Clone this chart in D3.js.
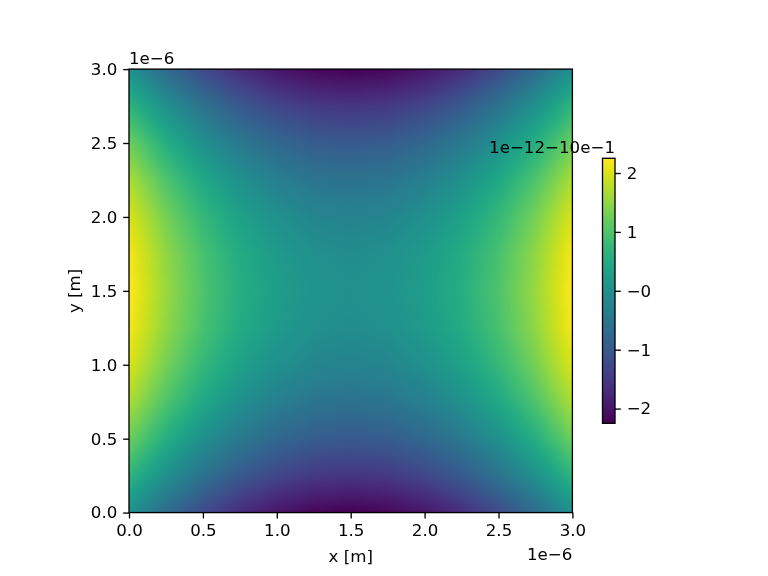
<!DOCTYPE html>
<html>
<head>
<meta charset="utf-8">
<script src="https://cdn.jsdelivr.net/npm/d3@7"></script>
<style>
  html, body { margin: 0; padding: 0; background: #ffffff; }
  #wrap { position: relative; width: 768px; height: 576px; }
  #wrap canvas, #wrap svg { position: absolute; left: 0; top: 0; }
  text { font-family: "DejaVu Sans", sans-serif; }
</style>
</head>
<body>
<div id="wrap"></div>
<script>
// ---- data ----
// grid node coordinates, in units of 1e-6 m
const xGrid = [0, 0.25, 0.5, 0.75, 1.0, 1.25, 1.5, 1.75, 2.0, 2.25, 2.5, 2.75, 3.0];
const yGrid = [0, 0.25, 0.5, 0.75, 1.0, 1.25, 1.5, 1.75, 2.0, 2.25, 2.5, 2.75, 3.0];
// field values at the nodes (units of 1e-12), row i is at yGrid[i]
const fieldRows = [
  [0, -0.69, -1.25, -1.69, -2.0, -2.19, -2.25, -2.19, -2.0, -1.69, -1.25, -0.69, 0],
  [0.69, 0, -0.56, -1.0, -1.31, -1.5, -1.56, -1.5, -1.31, -1.0, -0.56, 0, 0.69],
  [1.25, 0.56, 0, -0.44, -0.75, -0.94, -1.0, -0.94, -0.75, -0.44, 0, 0.56, 1.25],
  [1.69, 1.0, 0.44, 0, -0.31, -0.5, -0.56, -0.5, -0.31, 0, 0.44, 1.0, 1.69],
  [2.0, 1.31, 0.75, 0.31, 0, -0.19, -0.25, -0.19, 0, 0.31, 0.75, 1.31, 2.0],
  [2.19, 1.5, 0.94, 0.5, 0.19, 0, -0.06, 0, 0.19, 0.5, 0.94, 1.5, 2.19],
  [2.25, 1.56, 1.0, 0.56, 0.25, 0.06, 0, 0.06, 0.25, 0.56, 1.0, 1.56, 2.25],
  [2.19, 1.5, 0.94, 0.5, 0.19, 0, -0.06, 0, 0.19, 0.5, 0.94, 1.5, 2.19],
  [2.0, 1.31, 0.75, 0.31, 0, -0.19, -0.25, -0.19, 0, 0.31, 0.75, 1.31, 2.0],
  [1.69, 1.0, 0.44, 0, -0.31, -0.5, -0.56, -0.5, -0.31, 0, 0.44, 1.0, 1.69],
  [1.25, 0.56, 0, -0.44, -0.75, -0.94, -1.0, -0.94, -0.75, -0.44, 0, 0.56, 1.25],
  [0.69, 0, -0.56, -1.0, -1.31, -1.5, -1.56, -1.5, -1.31, -1.0, -0.56, 0, 0.69],
  [0, -0.69, -1.25, -1.69, -2.0, -2.19, -2.25, -2.19, -2.0, -1.69, -1.25, -0.69, 0]
];
const axisTicks = [0, 0.5, 1.0, 1.5, 2.0, 2.5, 3.0];
const colorDomain = [-2.25, 2.25];
const cbTicks = [2, 1, 0, -1, -2];
const cbTickLabels = ["2", "1", "\u22120", "\u22121", "\u22122"];
const xLabel = "x [m]";
const yLabel = "y [m]";
const xOffsetText = "1e\u22126";
const yOffsetText = "1e\u22126";
const cbOffsetText = "1e\u221212\u221210e\u22121";

// ---- layout ----
const W = 768, H = 576;
const FS = 16.67;
const tickLen = 5.83, tickPad = 5.83, lw = 1.33;
const plot = { left: 129, right: 572.4, top: 69.1, bottom: 512.6 };
const cb = { left: 602.5, right: 615, top: 158.3, bottom: 423.3 };

const x = d3.scaleLinear().domain([0, 3]).range([plot.left, plot.right]);
const y = d3.scaleLinear().domain([0, 3]).range([plot.bottom, plot.top]);
const color = d3.scaleSequential(d3.interpolateViridis).domain(colorDomain);
const cbScale = d3.scaleLinear().domain(colorDomain).range([cb.bottom, cb.top]);

const wrap = d3.select("#wrap");

// ---- field image on canvas (grid rendered with bilinear shading) ----
const canvas = wrap.append("canvas").attr("width", W).attr("height", H).node();
const ctx = canvas.getContext("2d");
const px0 = Math.round(x(0)), px1 = Math.round(x(3));
const py0 = Math.round(y(3)), py1 = Math.round(y(0));
const img = ctx.createImageData(px1 - px0, py1 - py0);
const gx = d3.scaleLinear().domain(d3.extent(xGrid)).range([0, xGrid.length - 1]);
const gy = d3.scaleLinear().domain(d3.extent(yGrid)).range([0, yGrid.length - 1]);
function sample(xv, yv) {
  let fx = Math.max(0, Math.min(xGrid.length - 1, gx(xv)));
  let fy = Math.max(0, Math.min(yGrid.length - 1, gy(yv)));
  let i = Math.min(xGrid.length - 2, Math.floor(fx)), j = Math.min(yGrid.length - 2, Math.floor(fy));
  let tx = fx - i, ty = fy - j;
  const a = fieldRows[j][i], b = fieldRows[j][i + 1], c = fieldRows[j + 1][i], d = fieldRows[j + 1][i + 1];
  return (a * (1 - tx) + b * tx) * (1 - ty) + (c * (1 - tx) + d * tx) * ty;
}
for (let py = py0; py < py1; py++) {
  for (let px = px0; px < px1; px++) {
    const v = sample(x.invert(px + 0.5), y.invert(py + 0.5));
    const col = d3.rgb(color(v));
    const k = ((py - py0) * (px1 - px0) + (px - px0)) * 4;
    img.data[k] = col.r; img.data[k + 1] = col.g; img.data[k + 2] = col.b; img.data[k + 3] = 255;
  }
}
ctx.putImageData(img, px0, py0);

// colorbar gradient
for (let py = Math.round(cb.top); py < Math.round(cb.bottom); py++) {
  ctx.fillStyle = color(cbScale.invert(py + 0.5));
  ctx.fillRect(cb.left, py, cb.right - cb.left, 1);
}

// ---- svg overlay ----
const svg = wrap.append("svg").attr("width", W).attr("height", H);

function styleAxis(g) {
  g.select(".domain").remove();
  g.selectAll(".tick line").attr("stroke", "#000").attr("stroke-width", lw);
  g.selectAll(".tick text").attr("fill", "#000").style("font-size", FS + "px")
    .style("font-family", "DejaVu Sans, sans-serif");
}

svg.append("g").attr("transform", `translate(0,${plot.bottom})`)
  .call(d3.axisBottom(x).tickValues(axisTicks).tickFormat(d3.format(".1f")).tickSize(tickLen).tickPadding(tickPad))
  .call(styleAxis);
svg.append("g").attr("transform", `translate(${plot.left},0)`)
  .call(d3.axisLeft(y).tickValues(axisTicks).tickFormat(d3.format(".1f")).tickSize(tickLen).tickPadding(tickPad))
  .call(styleAxis);

svg.append("rect")
  .attr("x", plot.left).attr("y", plot.top)
  .attr("width", plot.right - plot.left).attr("height", plot.bottom - plot.top)
  .attr("fill", "none").attr("stroke", "#000").attr("stroke-width", lw);

// axis labels
svg.append("text").attr("x", (plot.left + plot.right) / 2).attr("y", 562)
  .attr("text-anchor", "middle").style("font-size", FS + "px").text(xLabel);
svg.append("text").attr("transform", `translate(80,${(plot.top + plot.bottom) / 2}) rotate(-90)`)
  .attr("text-anchor", "middle").style("font-size", FS + "px").text(yLabel);

// offset texts
svg.append("text").attr("x", plot.right).attr("y", 560).attr("text-anchor", "end")
  .style("font-size", FS + "px").text(xOffsetText);
svg.append("text").attr("x", plot.left).attr("y", 64).attr("text-anchor", "start")
  .style("font-size", FS + "px").text(yOffsetText);

// colorbar axis
const cbAxis = svg.append("g").attr("transform", `translate(${cb.right},0)`)
  .call(d3.axisRight(cbScale).tickValues(cbTicks).tickFormat((d, i) => cbTickLabels[i]).tickSize(tickLen).tickPadding(tickPad))
  .call(styleAxis);
svg.append("rect")
  .attr("x", cb.left).attr("y", cb.top)
  .attr("width", cb.right - cb.left).attr("height", cb.bottom - cb.top)
  .attr("fill", "none").attr("stroke", "#000").attr("stroke-width", lw);
svg.append("text").attr("x", cb.right).attr("y", 153).attr("text-anchor", "end")
  .style("font-size", FS + "px").text(cbOffsetText);
</script>
</body>
</html>
